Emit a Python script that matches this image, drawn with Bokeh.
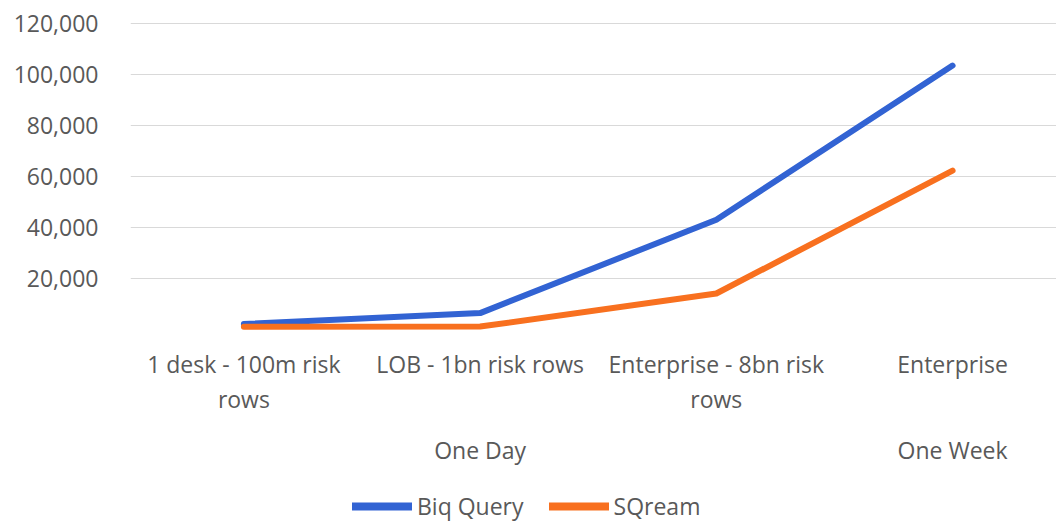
from bokeh.plotting import figure
from bokeh.layouts import column
from bokeh.models import Range1d, FixedTicker, LinearAxis, Legend, LegendItem, NumeralTickFormatter
from bokeh.embed import file_html
from bokeh.resources import INLINE

categories = ["1 desk - 100m risk\nrows", "LOB - 1bn risk rows", "Enterprise - 8bn risk\nrows", "Enterprise"]
groups = {1: "One Day", 3: "One Week"}
big_query = [2000, 6300, 43000, 103600]
sqream = [900, 1000, 14000, 62300]
y_ticks = [20000, 40000, 60000, 80000, 100000, 120000]
series_names = ["Biq Query", "SQream"]
series_colors = ["#3263d3", "#f8701f"]

FONT = "Open Sans"
TXT = "#595959"
FS = "23px"

x = list(range(len(categories)))

p = figure(frame_width=926, frame_height=317, output_backend="svg", toolbar_location=None,
           x_range=Range1d(-0.48, 3.44), y_range=Range1d(-2500, 122100),
           min_border_left=130, min_border_right=0, min_border_top=18, min_border_bottom=147,
           x_axis_location=None, y_axis_location=None)
p.outline_line_color = None
p.background_fill_color = "white"
p.border_fill_color = "white"


def style_axis(ax, standoff):
    ax.axis_line_color = None
    ax.major_tick_line_color = None
    ax.minor_tick_line_color = None
    ax.major_tick_out = 0
    ax.major_tick_in = 0
    ax.minor_tick_out = 0
    ax.minor_tick_in = 0
    ax.major_label_text_font = FONT
    ax.major_label_text_font_size = FS
    ax.major_label_text_color = TXT
    ax.major_label_standoff = standoff


yaxis = LinearAxis(ticker=FixedTicker(ticks=y_ticks), formatter=NumeralTickFormatter(format="0,0"))
style_axis(yaxis, 32)
p.add_layout(yaxis, "left")

xaxis = LinearAxis(ticker=FixedTicker(ticks=x))
xaxis.major_label_overrides = {i: c for i, c in enumerate(categories)}
style_axis(xaxis, 12)
xaxis.major_label_text_line_height = 1.1
p.add_layout(xaxis, "below")

gaxis = LinearAxis(ticker=FixedTicker(ticks=list(groups.keys())))
gaxis.major_label_overrides = groups
style_axis(gaxis, 16)
p.add_layout(gaxis, "below")

p.xgrid.visible = False
p.ygrid.ticker = FixedTicker(ticks=y_ticks)
p.ygrid.grid_line_color = "#d9d9d9"
p.ygrid.grid_line_width = 1

series = [big_query, sqream]
for vals, col in zip(series, series_colors):
    p.line(x, vals, line_color=col, line_width=6, line_cap="round", line_join="round")

# legend strip below the chart (its own renderers lie outside its visible range)
lg = figure(width=1056, height=40, output_backend="svg", toolbar_location=None,
            x_range=Range1d(-0.48, 3.44), y_range=Range1d(-3, -2),
            min_border=0, x_axis_location=None, y_axis_location=None)
lg.outline_line_color = None
lg.xgrid.visible = False
lg.ygrid.visible = False
items = []
for name, vals, col in zip(series_names, series, series_colors):
    r = lg.line(x, vals, line_color=col, line_width=8, line_cap="round")
    items.append(LegendItem(label=name, renderers=[r]))

legend = Legend(items=items, orientation="horizontal", location=(222, 0))
legend.label_text_font = FONT
legend.label_text_font_size = FS
legend.label_text_color = TXT
legend.glyph_width = 60
legend.glyph_height = 20
legend.label_height = 20
legend.label_standoff = 5
legend.spacing = 25
legend.border_line_color = None
legend.background_fill_alpha = 0
legend.padding = 0
legend.margin = 0
lg.add_layout(legend, "center")

open("out.html", "w").write(file_html(column(p, lg, spacing=0), INLINE))
